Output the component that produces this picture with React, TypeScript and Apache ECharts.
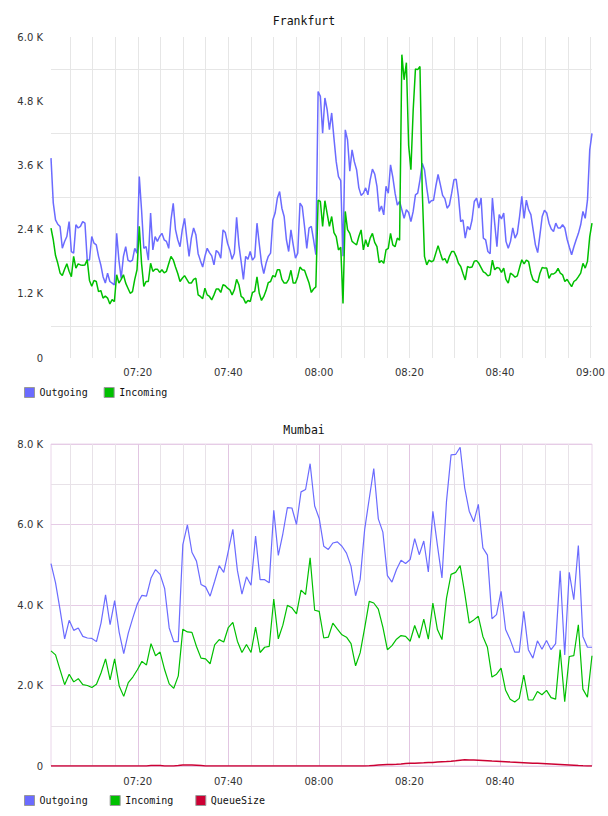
import React, { useEffect, useRef } from "react";
import * as echarts from "echarts";

// Frankfurt: one sample every 30 s
const frankfurtStart = "07:00:50";
const frankfurtStepSeconds = 30;
const frankfurtOutgoing = [
  3736, 2900, 2582, 2500, 2458, 2053, 2177, 2271, 2550, 1990, 1960, 2490, 2430, 2460, 2550, 2520,
  1834, 1834, 2270, 2146, 2115, 1900, 1740, 1520, 1400, 1585, 1430, 1400, 1365, 2330, 1830, 1490,
  1900, 2080, 1830, 1800, 1830, 2050, 1960, 3390, 2770, 2050, 2080, 1830, 2710, 2020, 2270, 2180,
  2270, 2330, 2210, 2180, 2050, 2580, 2890, 2400, 2210, 2080, 2400, 2610, 2240, 1900,
  2240, 2430, 2305, 1950, 1820, 1700, 1900, 2050, 1970, 1910, 1740, 2010, 1970, 1865, 2395, 2345,
  2145, 2020, 1845, 1960, 2630, 2115, 1800, 1470, 1900, 1845, 1990, 1830, 1885, 2520, 2135, 1770,
  1580, 1770, 1900, 1960, 2580, 2710, 2990, 3110, 2800, 2645, 2210, 1990, 2395, 2115, 1865, 1960,
  2895, 2830, 2460, 2050, 2430, 2460, 2210, 1930, 4980, 4890, 4200, 4860, 4640, 4270,
  4580, 4110, 3670, 3390, 3315, 1900, 4265, 4080, 3490, 3890, 3670, 3520, 3180, 3040, 3080, 3180,
  3050, 3330, 3530, 3440, 3210, 2740, 2840, 2675, 3210, 3080, 3610, 3380, 3080, 2860, 2925, 2770,
  2610, 2770, 2720, 2550, 2740, 3050, 3080, 3330, 3640, 3520, 3180, 2890, 2940, 2950, 3210, 3430,
  3240, 3040, 2980, 2800, 2860, 3080, 3330, 3340, 3020, 2550, 2580, 2240, 2460,
  2395, 2580, 2925, 2990, 2800, 2990, 2240, 2210, 1990, 1950, 2990, 2520, 2080, 2680, 2600, 2710,
  2180, 2050, 2180, 2430, 2240, 2330, 2645, 3020, 2610, 2950, 2770, 2680, 2395, 2115, 1970, 2300,
  2645, 2760, 2710, 2520, 2410, 2365, 2520, 2430, 2430, 2490, 2430, 2220, 2070, 1930, 2080, 2210,
  2330, 2490, 2740, 2610, 2950, 3890, 4200,
];
const frankfurtIncoming = [
  2427, 2210, 1915, 1770, 1590, 1540, 1660, 1760, 1620, 1520, 1900, 1680, 1760, 1740, 1735, 1740,
  1835, 1450, 1340, 1450, 1430, 1240, 1260, 1120, 1160, 1120, 1010, 1090, 1055, 1555, 1400, 1470,
  1555, 1400, 1305, 1210, 1240, 1470, 1650, 2460, 1770, 1340, 1430, 1430, 1770, 1620, 1660, 1660,
  1600, 1650, 1590, 1620, 1760, 1900, 1835, 1700, 1580, 1430, 1490, 1540, 1470, 1400,
  1400, 1470, 1490, 1180, 1150, 1110, 1305, 1180, 1150, 1085, 1180, 1290, 1290, 1225, 1370, 1350,
  1305, 1275, 1180, 1275, 1470, 1370, 1150, 1120, 1025, 1075, 1055, 1225, 1245, 1515, 1210, 1075,
  1150, 1260, 1410, 1430, 1540, 1515, 1650, 1650, 1470, 1400, 1400, 1470, 1640, 1400, 1400, 1520,
  1700, 1650, 1640, 1520, 1400, 1225, 1290, 1330, 2950, 2925, 2460, 2940, 2700, 2460,
  2645, 2345, 2270, 2020, 2070, 1020, 2740, 2400, 2330, 2180, 2145, 2115, 2270, 2395, 2020, 2210,
  2080, 2240, 2330, 2160, 2080, 1780, 1820, 1770, 2020, 2050, 2330, 2115, 2080, 2240, 2200, 5670,
  5200, 5520, 3970, 3520, 4630, 5400, 5390, 5450, 3140, 1900, 1740, 1830, 1800, 1820, 1960, 2100,
  1960, 1830, 1860, 1770, 1900, 1990, 1990, 1900, 1770, 1710, 1580, 1460, 1710,
  1690, 1700, 1810, 1820, 1770, 1690, 1610, 1585, 1535, 1555, 1830, 1650, 1690, 1680, 1600, 1680,
  1470, 1400, 1585, 1555, 1510, 1535, 1690, 1835, 1760, 1830, 1800, 1585, 1460, 1430, 1410, 1585,
  1690, 1680, 1680, 1490, 1570, 1570, 1600, 1675, 1585, 1555, 1430, 1470, 1400, 1335, 1430, 1460,
  1520, 1585, 1770, 1680, 1810, 2270, 2520,
];

// Mumbai: one sample about every minute
const mumbaiStart = "07:00:50";
const mumbaiStepSeconds = 60.25;
const mumbaiOutgoing = [
  5030, 4550, 3880, 3160, 3620, 3370, 3430, 3220, 3180, 3170, 3090, 3550, 4250, 3510, 4110, 3320,
  2790, 3300, 3680, 4030, 4240, 4220, 4670, 4880, 4760, 4410, 3430, 3090, 3090, 5500, 5990, 5310,
  5090, 4510, 4450, 4220, 4590, 4980, 4810, 5340, 5880, 4860, 4270, 4700, 4490, 5710, 4630, 4630,
  4550, 6350, 5230, 5770, 6420, 6410, 6000, 6810, 6870, 7510, 6460, 6150, 5460, 5380, 5540, 5570,
  5460, 5290, 4960, 4230, 4630, 5880, 6640, 7390, 6140, 5810, 4730, 4570, 4880, 5110, 5030, 5130,
  5650, 5250, 5590, 4820, 6330, 5480, 4670, 6580, 7730, 7740, 7920, 6910, 6330, 6070, 6500, 5420,
  5240, 3660, 3760, 4340, 3390, 3140, 2830, 2830, 3840, 2890, 2680, 3110, 2900, 3120, 2890, 3040,
  4850, 2760, 4810, 4130, 5480, 3220, 2950, 2950,
];
const mumbaiIncoming = [
  2860, 2760, 2390, 2020, 2280, 2090, 2170, 2020, 2000, 1950, 2030, 2310, 2660, 2140, 2660, 1990,
  1730, 2070, 2210, 2390, 2600, 2510, 3040, 2740, 2830, 2390, 2040, 1930, 2240, 3400, 3330, 3320,
  2970, 2680, 2660, 2540, 3010, 3140, 3080, 3440, 3570, 3100, 2820, 3020, 2820, 3450, 2820, 2950,
  2970, 4150, 3160, 3500, 3990, 3930, 3780, 4370, 4260, 5170, 3870, 3840, 3180, 3200, 3550, 3400,
  3260, 3200, 3040, 2490, 2810, 3430, 4090, 4050, 3900, 3450, 2890, 2990, 3150, 3240, 3220, 3100,
  3490, 3180, 3650, 3150, 4050, 3390, 3140, 4170, 4760, 4810, 4980, 4300, 3550, 3630, 3720, 3220,
  2950, 2210, 2280, 2430, 1880, 1660, 1590, 1680, 2260, 1640, 1640, 1850, 1770, 1880, 1700, 1660,
  2890, 1600, 2720, 2740, 3510, 1910, 1710, 2740,
];
const mumbaiQueueSize = [
  0, 0, 0, 0, 0, 0, 0, 0, 0, 0, 0, 0, 0, 0, 0, 0, 0, 0, 0, 0, 0, 0, 10, 15, 10, 0, 0, 0, 10, 25,
  25, 25, 20, 10, 0, 0, 0, 0, 0, 0, 0, 0, 0, 0, 0, 0, 0, 0, 0, 0, 0, 0, 0, 0, 0, 0, 0, 0, 0, 0,
  0, 0, 0, 0, 0, 0, 0, 0, 0, 0, 5, 15, 25, 30, 35, 40, 45, 52, 60, 66, 70, 74, 78, 84, 90, 98,
  105, 112, 120, 130, 145, 158, 152, 146, 140, 134, 128, 122, 118, 114, 107, 100, 94, 88, 82, 76,
  70, 66, 60, 54, 48, 42, 36, 30, 24, 18, 12, 7, 3, 0,
];

// Time axis extent and marks
const axisStart = "07:00:50";
const axisEnd = "09:00:20";
const frankfurtTimeLabels = ["07:20", "07:40", "08:00", "08:20", "08:40", "09:00"];
const mumbaiTimeLabels = ["07:20", "07:40", "08:00", "08:20", "08:40"];
const fiveMinuteMarks = [
  "07:05", "07:10", "07:15", "07:20", "07:25", "07:30", "07:35", "07:40",
  "07:45", "07:50", "07:55", "08:00", "08:05", "08:10", "08:15", "08:20",
  "08:25", "08:30", "08:35", "08:40", "08:45", "08:50", "08:55", "09:00",
];

const COLORS = { outgoing: "#6b6bff", incoming: "#00c000", queue: "#cc0033" };
const SANS = "DejaVu Sans, Verdana, sans-serif";
const MONO = "DejaVu Sans Mono, monospace";

const toMinutes = (t: string) => {
  const [h, m, s = "0"] = t.split(":");
  return Number(h) * 60 + Number(m) + Number(s) / 60;
};
const pad = (n: number) => (n < 10 ? "0" + n : String(n));
const formatClock = (v: number) => {
  const total = Math.round(v);
  return pad(Math.floor(total / 60)) + ":" + pad(total % 60);
};
const formatK = (v: number) => (v === 0 ? "0" : (v / 1000).toFixed(1) + " K");

const toSeries = (values: number[], start: string, stepSeconds: number) => {
  const t0 = toMinutes(start);
  return values.map((v, i) => [t0 + (i * stepSeconds) / 60, v]);
};

export default function App() {
  const ref = useRef<HTMLDivElement>(null);

  useEffect(() => {
    if (!ref.current) return;
    const chart = echarts.init(ref.current, null, { renderer: "svg" });

    const xMin = toMinutes(axisStart);
    const xMax = toMinutes(axisEnd);
    const fiveMin = fiveMinuteMarks.map(toMinutes);
    const fLabels = frankfurtTimeLabels.map(toMinutes);
    const mLabels = mumbaiTimeLabels.map(toMinutes);
    const mMinor = fiveMinuteMarks
      .filter((t) => !mumbaiTimeLabels.includes(t) && t !== "09:00")
      .map(toMinutes);

    const axisText = { fontFamily: SANS, fontSize: 10, color: "#333" };
    const legendBase = {
      icon: "rect",
      itemWidth: 10,
      itemHeight: 10,
      padding: 0,
      selectedMode: false,
      textStyle: { fontFamily: MONO, fontSize: 10, color: "#111" },
      itemStyle: { borderColor: "#999", borderWidth: 1 },
    };
    const titleText = { fontFamily: MONO, fontSize: 11.5, fontWeight: "normal", color: "#111" };

    const line = (name: string, data: number[][], color: string, axis: number, width: number) => ({
      name,
      type: "line",
      xAxisIndex: axis === 0 ? 0 : 1,
      yAxisIndex: axis,
      data,
      showSymbol: false,
      symbol: "none",
      lineStyle: { color, width },
      itemStyle: { color },
    });

    chart.setOption({
      animation: false,
      backgroundColor: "#fff",
      title: [
        { text: "Frankfurt", left: "center", top: 10, textStyle: titleText },
        { text: "Mumbai", left: "center", top: 419, textStyle: titleText },
      ],
      legend: [
        { ...legendBase, data: ["Outgoing", "Incoming"], left: 24, top: 387, itemGap: 16 },
        { ...legendBase, data: ["Outgoing", "Incoming", "QueueSize"], left: 24, top: 795, itemGap: 22 },
      ],
      grid: [
        { left: 51, top: 37, width: 541, height: 321 },
        { left: 51, top: 444, width: 541, height: 322, show: true, borderColor: "#ead6ea", borderWidth: 1 },
      ],
      xAxis: [
        {
          gridIndex: 0,
          type: "value",
          min: xMin,
          max: xMax,
          axisLine: { show: false },
          axisTick: { show: false, customValues: fiveMin },
          axisLabel: { ...axisText, customValues: fLabels, formatter: formatClock, margin: 9 },
          splitLine: { show: true, lineStyle: { color: "#e6e6e6", width: 1 } },
        },
        {
          gridIndex: 1,
          type: "value",
          min: xMin,
          max: xMax,
          axisLine: { show: false },
          axisTick: { show: false, customValues: mLabels },
          axisLabel: { ...axisText, customValues: mLabels, formatter: formatClock, margin: 10 },
          splitLine: { show: true, lineStyle: { color: "#e2c6e2", width: 1 } },
          z: 2,
        },
        {
          gridIndex: 1,
          type: "value",
          position: "top",
          min: xMin,
          max: xMax,
          axisLine: { show: false },
          axisTick: { show: false, customValues: mMinor },
          axisLabel: { show: false },
          splitLine: { show: true, lineStyle: { color: "#e8e2e8", width: 1 } },
        },
      ],
      yAxis: [
        {
          gridIndex: 0,
          type: "value",
          min: 0,
          max: 6000,
          interval: 1200,
          axisLine: { show: false },
          axisTick: { show: false },
          axisLabel: { ...axisText, formatter: formatK, margin: 8 },
          splitLine: { show: false },
          minorTick: { show: false, splitNumber: 2 },
          minorSplitLine: { show: true, lineStyle: { color: "#e6e6e6", width: 1 } },
        },
        {
          gridIndex: 1,
          type: "value",
          min: 0,
          max: 8000,
          interval: 2000,
          axisLine: { show: false },
          axisTick: { show: false },
          axisLabel: { ...axisText, formatter: formatK, margin: 8 },
          splitLine: { show: true, lineStyle: { color: "#e6cce6", width: 1 } },
          minorTick: { show: false, splitNumber: 2 },
          minorSplitLine: { show: true, lineStyle: { color: "#e8e2e8", width: 1 } },
        },
      ],
      series: [
        line("Outgoing", toSeries(frankfurtOutgoing, frankfurtStart, frankfurtStepSeconds), COLORS.outgoing, 0, 1.5),
        line("Incoming", toSeries(frankfurtIncoming, frankfurtStart, frankfurtStepSeconds), COLORS.incoming, 0, 1.5),
        line("Outgoing", toSeries(mumbaiOutgoing, mumbaiStart, mumbaiStepSeconds), COLORS.outgoing, 1, 1.2),
        line("Incoming", toSeries(mumbaiIncoming, mumbaiStart, mumbaiStepSeconds), COLORS.incoming, 1, 1.2),
        line("QueueSize", toSeries(mumbaiQueueSize, mumbaiStart, mumbaiStepSeconds), COLORS.queue, 1, 1.5),
      ],
    });

    return () => chart.dispose();
  }, []);

  return (
    <div
      ref={ref}
      style={{ position: "absolute", left: 0, top: 0, width: 608, height: 816, background: "#fff" }}
    />
  );
}
